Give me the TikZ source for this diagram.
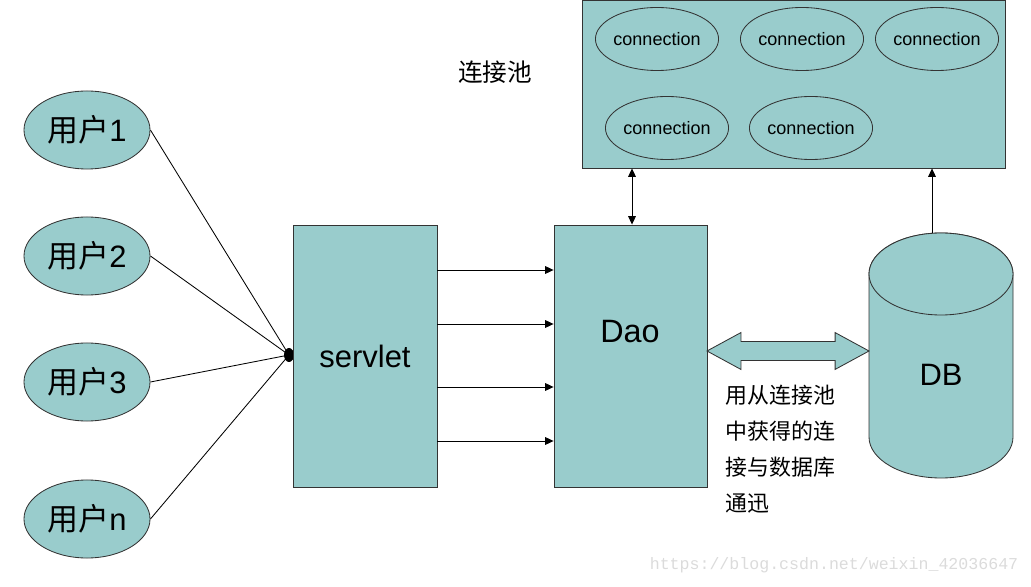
\documentclass[tikz,border=0pt]{standalone}
\usepackage{fontspec}
\setmainfont{Liberation Sans}
\setmonofont{Liberation Mono}
\newfontfamily\cjk{Noto Sans CJK SC}
\usetikzlibrary{arrows.meta,shapes.geometric,shapes.arrows}
\definecolor{poolteal}{RGB}{153,204,204}
\tikzset{
  part/.style={draw=black!80, fill=poolteal, line width=0.6pt},
  user/.style={part, ellipse, minimum width=3.15cm, minimum height=1.95cm, inner sep=0pt, font=\fontsize{22}{24}\selectfont},
  conn/.style={draw=black!80, line width=0.6pt, ellipse, minimum width=2.95cm, minimum height=1.575cm, inner sep=0pt, font=\fontsize{12.8}{14}\selectfont},
  bigtext/.style={font=\fontsize{22}{24}\selectfont},
  tip/.style={-{Triangle[length=6pt,width=5.5pt]}},
  twotip/.style={{Triangle[length=6pt,width=5.5pt]}-{Triangle[length=6pt,width=5.5pt]}},
}
\begin{document}
\begin{tikzpicture}[x=0.025cm, y=0.025cm]
  \useasboundingbox (0,0) rectangle (1031,586);
  % users
  \node[user] (u1) at (87,456) {{\cjk 用户}1};
  \node[user] (u2) at (87,330) {{\cjk 用户}2};
  \node[user] (u3) at (87,204) {{\cjk 用户}3};
  \node[user] (un) at (87,67) {{\cjk 用户}n};
  \coordinate (hub) at (289,231);
  \foreach \u in {u1,u2,u3,un}
    \draw[line width=0.6pt] (\u.east) -- (hub);
  \fill (hub) ellipse[x radius=5, y radius=7];
  % servlet and Dao
  \node[part, minimum width=3.6cm, minimum height=6.55cm, bigtext] (servlet) at (365,230) {servlet};
  \node[part, minimum width=3.825cm, minimum height=6.55cm] (dao) at (630.5,230) {};
  \node[font=\fontsize{23}{25}\selectfont] (daolabel) at (630,254) {Dao};
  \foreach \y in {316,262,199,145}
    \draw[tip, line width=0.6pt] (servlet.east |- 0,\y) -- (dao.west |- 0,\y);
  % pool
  \node[part, minimum width=10.575cm, minimum height=4.2cm] (pool) at (793.5,502) {};
  \foreach \x/\y [count=\i] in {657/547, 802/547, 937/547, 667/458, 811/458}
    \node[conn] (c\i) at (\x,\y) {connection};
  \node[font=\cjk\fontsize{17.5}{19}\selectfont] (poollabel) at (495,514) {连接池};
  \draw[twotip, line width=0.6pt] (dao.north -| 632,0) -- (pool.south -| 632,0);
  % DB
  \draw[part] (869,312) -- (869,149) arc[start angle=180, end angle=360, x radius=72, y radius=41]
    -- (1013,312) arc[start angle=0, end angle=180, x radius=72, y radius=41] -- cycle;
  \draw[part] (941,312) ellipse[x radius=72, y radius=41];
  \node[minimum width=3.6cm, minimum height=6.125cm] (db) at (941,230.5) {};
  \node[bigtext] (dblabel) at (941,211) {DB};
  \draw[tip, line width=0.6pt] (db.north -| 932,0) -- (pool.south -| 932,0);
  % Dao <-> DB
  \node[double arrow, part, minimum height=4.05cm, inner xsep=0pt, inner ysep=0.225cm,
    double arrow head extend=0.225cm, double arrow tip angle=57] (link) at (788,235) {};
  \node[anchor=west, align=left, font=\cjk\fontsize{15.6}{25.6}\selectfont] (note) at (721,137)
    {用从连接池\\中获得的连\\接与数据库\\通迅};
  \node[text=black!14, font=\ttfamily\fontsize{11.8}{13}\selectfont] (mark) at (834,21) {https://blog.csdn.net/weixin\_42036647};
\end{tikzpicture}
\end{document}
